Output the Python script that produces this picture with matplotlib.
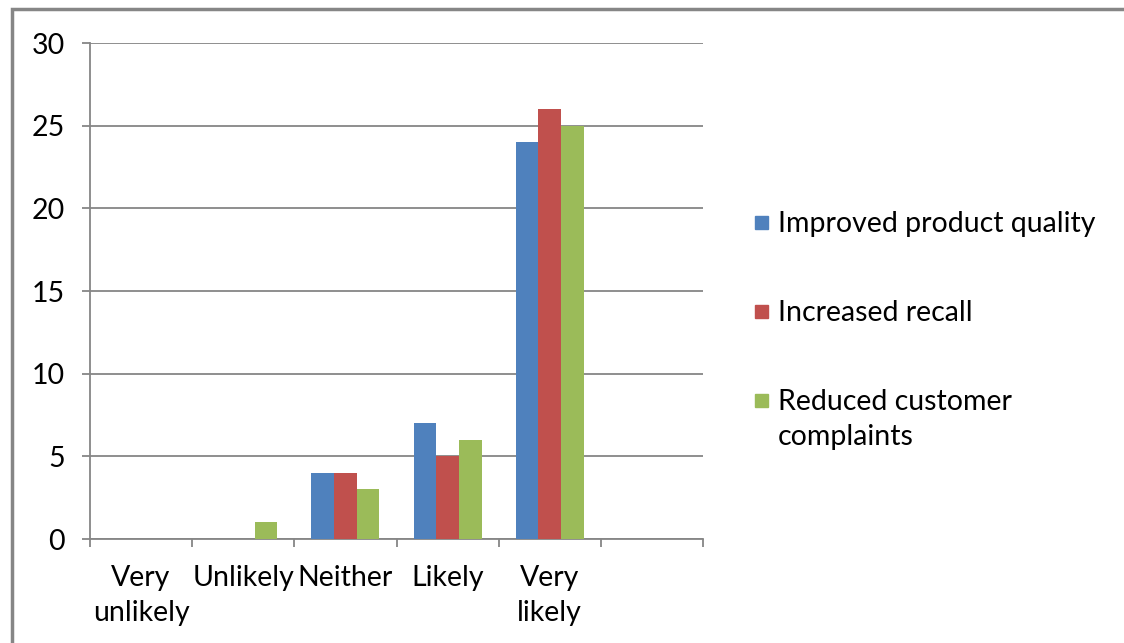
import matplotlib.pyplot as plt
import numpy as np
from matplotlib.patches import Rectangle

categories = ["Very\nunlikely", "Unlikely", "Neither", "Likely", "Very\nlikely", ""]
improved_quality = [0, 0, 4, 7, 24, 0]
increased_recall = [0, 0, 4, 5, 26, 0]
reduced_complaints = [0, 1, 3, 6, 25, 0]
series_names = ["Improved product quality", "Increased recall",
                "Reduced customer\ncomplaints"]
colors = ["#4F81BD", "#C0504D", "#9BBB59"]

plt.rcParams['font.family'] = ['Lato', 'DejaVu Sans']
W, H = 1124, 643

fig = plt.figure(figsize=(W / 100, H / 100), dpi=100)
ax = fig.add_axes([90 / W, 1 - 539 / H, 613 / W, 496 / H])

x = np.arange(len(categories))
w = 1 / 4.5  # gap width 150%
series = [improved_quality, increased_recall, reduced_complaints]
for i, (vals, col) in enumerate(zip(series, colors)):
    ax.bar(x + (i - 1) * w, vals, width=w, color=col, zorder=3, linewidth=0)

grid_col = "#868686"
fs = 20.5
ax.set_xlim(-0.5, len(categories) - 0.5)
ax.set_ylim(0, 30)
ax.set_yticks(range(0, 31, 5))
ax.yaxis.grid(True, color=grid_col, linewidth=1.3, zorder=0)
ax.set_xticks(x)
ax.set_xticklabels(categories, fontsize=fs, linespacing=1.4)
ax.set_xticks(np.arange(-0.5, len(categories)), minor=True)
ax.tick_params(axis='x', which='major', length=0, pad=19)
ax.tick_params(axis='x', which='minor', length=6, width=1.3, color=grid_col)
ax.tick_params(axis='y', length=6, width=1.3, color=grid_col, labelsize=fs, pad=12)
for s in ["top", "right"]:
    ax.spines[s].set_visible(False)
for s in ["left", "bottom"]:
    ax.spines[s].set_color(grid_col)
    ax.spines[s].set_linewidth(1.3)

# legend: square swatch beside each (possibly wrapped) label
legend_rows = [222, 311, 400]
for name, col, yr in zip(series_names, colors, legend_rows):
    fig.patches.append(Rectangle((755 / W, 1 - (yr + 7) / H), 13 / W, 13 / H,
                                 transform=fig.transFigure, color=col))
    fig.text(778 / W, 1 - (yr - 11) / H, name, fontsize=fs, va="top", ha="left",
             linespacing=1.45)

# outer chart border
fig.patches.append(Rectangle((12 / W, -0.1), 1.2, 1 - 9 / H + 0.1,
                             transform=fig.transFigure, fill=False,
                             edgecolor=grid_col, linewidth=2.5))

fig.savefig("out.png", dpi=100)
